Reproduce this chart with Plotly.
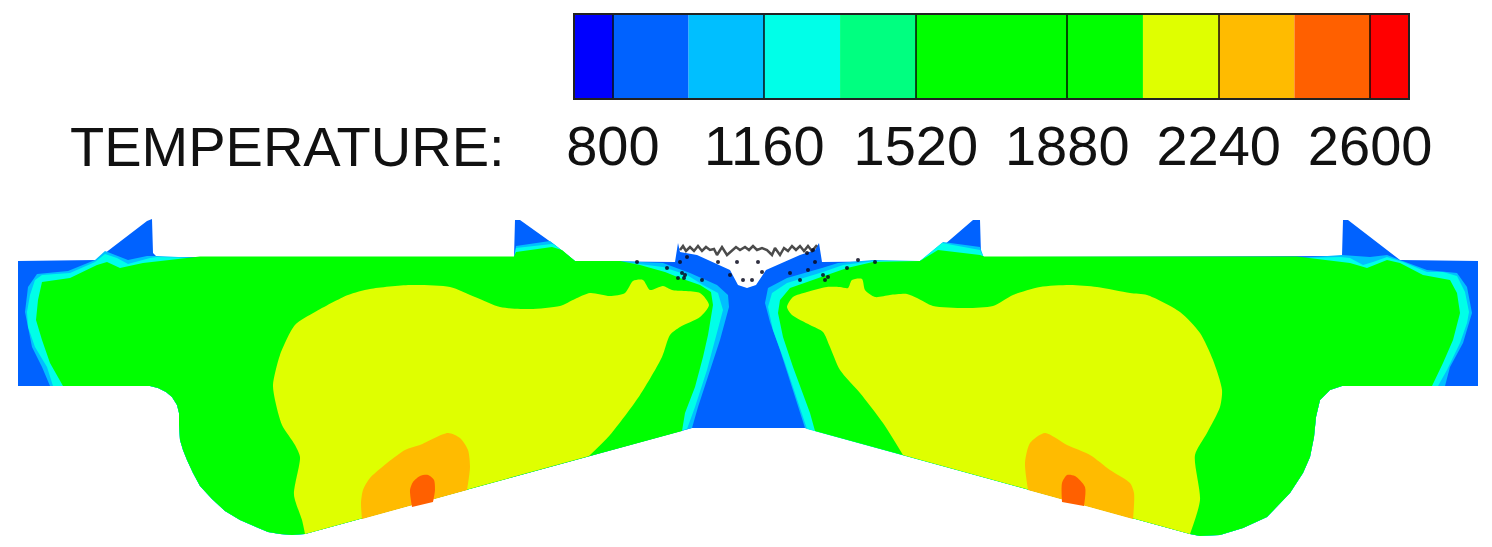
# -*- coding: utf-8 -*-
# temperature contour of the section (pixel coordinates)
import plotly.graph_objects as go

#%% legend bands
band_lo = [710, 800, 980, 1160, 1340, 1520, 2060, 2240, 2420, 2600]
band_hi = [800, 980, 1160, 1340, 1520, 2060, 2240, 2420, 2600, 2690]
band_colors = ['#0000ff', '#0062ff', '#00bfff', '#00ffe8', '#00ff80', '#00ff00',
               '#dfff00', '#ffbb00', '#ff6000', '#ff0000']
tick_vals = [800, 1160, 1520, 1880, 2240, 2600]
tick_text = ['800', '1160', '1520', '1880', '2240', '2600']

#%% contour regions
left_bottom = [(305,534),(292,535),(280,534),(268,532),(258,528),(240,520),(225,511),(212,499),(200,486),
               (193,473),(187,460),(183,450),(180,440),(179,425),(179,413),(177,405),(172,397),(166,392),
               (158,388),(150,386),(145,386)]
right_bottom = [(1190,534),(1200,536),(1220,535),(1243,528),(1267,517),(1290,493),(1303,473),(1310,457),
                (1314,437),(1316,417),(1320,400),(1330,390),(1342,386)]

outline = [(18,261),(96,260),(147,221),(152,219),(153,253),(157,257),(514,257),(515,220),(520,220),
           (555,245),(575,261),(675,262),(678,243),(680,252),(697,255),(730,270),(738,285),(747,288),
           (756,285),(766,270),(800,255),(815,250),(819,243),(822,262),(920,261),(944,245),(973,220),
           (980,220),(981,254),(984,257),(1342,256),(1343,220),(1348,220),(1400,260),(1478,261),
           (1478,386)] + right_bottom[::-1] + [(805,428),(692,428)] + left_bottom + [(18,386)]

lightblue_left = [(50,386),(42,367),(32,347),(25,312),(28,287),(37,274),(68,271),(95,260),(105,251),
                  (115,255),(128,260),(147,256),(157,256),(200,258),(514,258),(516,246),(550,241),(555,245),
                  (575,261),(620,261),(663,263),(690,273),(717,285),(728,295),(729,307),(720,340),
                  (710,370),(698,407),(692,428)] + left_bottom
cyan_left = [(53,386),(47,367),(35,347),(28,327),(27,312),(30,295),(35,280),(42,275),(70,273),(95,262),
             (105,254),(117,258),(128,264),(150,258),(157,257),(200,258),(514,258),(516,248),(552,244),(555,245),
             (575,261),(623,262),(663,267),(687,275),(703,285),(718,293),(723,310),(717,333),(707,370),
             (695,407),(687,429)] + left_bottom
green_left = [(63,386),(50,363),(42,340),(36,320),(38,300),(42,282),(70,278),(97,265),(107,262),
              (120,268),(143,263),(200,256.5),(514,256.5),(516,252),(552,247),(562,250),(575,261),(620,261),
              (640,265),(665,272),(680,278),(700,285),(711,292),(713,305),(708,335),(703,357),(695,387),
              (685,413),(682,431)] + left_bottom
yellow_left = [(305,534),(302,520),(294,495),(300,457),(295,445),(282,425),(275,400),(273,385),(280,355),
               (295,325),(315,312),(348,295),(370,289),(410,285),(450,287),(475,297),(500,307),(530,309),
               (560,306),(575,299),(590,293),(610,296),(625,293),(633,281),(643,280),(650,290),(663,286),
               (672,290),(700,293),(709,305),(700,317),(680,327),(670,335),(662,357),(640,395),(610,435),
               (589,456)]
orange_left = [(467,490),(470,467),(468,450),(460,438),(448,433),(420,445),(405,450),(370,478),(363,490),
               (361,503),(362,519)]
redorange_left = [(412,507),(410,490),(413,482),(420,476),(428,475),(434,480),(435,490),(433,502)]

lightblue_right = [(920,261),(873,260),(838,263),(822,268),(787,278),(768,288),(765,303),(770,322),(780,350),
                   (793,390),(805,428)] + right_bottom + [(1445,386),(1450,367),(1463,343),(1472,313),
                   (1467,287),(1457,273),(1427,270),(1400,260),(1387,255),(1370,257),(1342,255),(1298,258),
                   (984,258),(980,247),(943,242)]
cyan_right = [(920,261),(875,261),(843,265),(823,272),(787,283),(772,293),(768,307),(773,330),(785,363),
              (800,407),(807,429)] + right_bottom + [(1438,386),(1447,370),(1460,343),(1467,323),(1469,312),
              (1465,292),(1457,276),(1443,272),(1427,272),(1403,262),(1387,257),(1373,262),(1363,265),
              (1350,258),(1340,257),(1300,258),(984,258),(980,250),(942,243)]
green_right = [(920,261),(873,262),(847,268),(827,275),(790,288),(780,300),(778,313),(783,337),(793,367),
               (810,413),(815,431)] + right_bottom + [(1432,386),(1443,363),(1453,340),(1460,313),(1457,293),
               (1450,280),(1423,275),(1400,263),(1387,260),(1367,268),(1350,263),(1297,256.5),(984,256.5),
               (980,255),(938,250)]
yellow_right = [(903,455),(883,423),(860,393),(840,370),(830,347),(823,332),(810,325),(792,315),(787,307),
                (793,297),(807,292),(827,287),(840,287),(848,288),(852,280),(862,279),(865,290),(875,297),
                (890,295),(907,294),(917,298),(933,306),(967,308),(993,306),(1013,295),(1040,287),(1070,285),
                (1097,287),(1130,293),(1147,295),(1180,312),(1200,333),(1213,360),(1222,390),(1220,407),
                (1207,433),(1195,455),(1200,500),(1190,534)]
orange_right = [(1028,490),(1025,463),(1030,443),(1045,433),(1067,445),(1090,455),(1110,470),(1130,483),
                (1134,493),(1133,519)]
redorange_right = [(1062,502),(1062,483),(1067,475),(1075,476),(1085,487),(1084,506)]

# particle tracks and specks at the notch
track = [(680,250),(683,246),(686,251),(690,247),(694,251),(698,246),(702,251),(706,247),(710,250),(714,249),
         (717,255),(722,247),(727,255),(732,250),(736,247),(740,250),(745,247),(749,250),(753,246),(757,250),
         (762,248),(767,250),(772,255),(775,248),(780,255),(784,248),(788,251),(792,246),(796,250),(800,246),
         (804,251),(808,246),(812,251),(817,245)]
specks = [(685,275),(682,273),(678,278),(687,257),(667,268),(637,262),(702,280),(718,262),(730,275),(737,262),
          (758,262),(762,272),(743,280),(752,280),(790,273),(800,280),(808,270),(823,275),(828,277),(847,268),
          (858,260),(875,262),(807,253),(813,250),(680,262),(815,262),(684,278),(825,280)]

#%%
fig = go.Figure()


def add_region(points, color, shape='linear'):
    xs, ys = zip(*points)
    fig.add_trace(go.Scatter(x=xs, y=ys, mode='lines', fill='toself', fillcolor=color,
                             line=dict(width=0, shape=shape, smoothing=0.7), hoverinfo='skip',
                             showlegend=False))


add_region(outline, '#0062ff')
for region in [lightblue_left, lightblue_right]:
    add_region(region, '#00bfff')
for region in [cyan_left, cyan_right]:
    add_region(region, '#00ffe8')
for region in [green_left, green_right]:
    add_region(region, '#00ff00')
for region in [yellow_left, yellow_right]:
    add_region(region, '#dfff00', 'spline')
for region in [orange_left, orange_right]:
    add_region(region, '#ffbb00', 'spline')
for region in [redorange_left, redorange_right]:
    add_region(region, '#ff6000', 'spline')

fig.add_trace(go.Scatter(x=[p[0] for p in track], y=[p[1] for p in track], mode='lines',
                         line=dict(color='rgba(30,30,30,0.8)', width=2.5), showlegend=False))
fig.add_trace(go.Scatter(x=[p[0] for p in specks], y=[p[1] for p in specks], mode='markers',
                         marker=dict(color='rgba(10,10,30,0.85)', size=4), showlegend=False))

fig.add_trace(go.Bar(x=[h - l for l, h in zip(band_lo, band_hi)], y=[0] * len(band_lo), base=band_lo,
                     orientation='h', width=1, marker=dict(color=band_colors, line=dict(width=0)),
                     xaxis='x2', yaxis='y2', showlegend=False))

fig.add_annotation(text='TEMPERATURE:', xref='x', yref='y', x=68, y=146, xanchor='left', yanchor='middle',
                   showarrow=False, font=dict(family='Liberation Sans', size=56, color='#111111'))

fig.update_layout(
    width=1492, height=547, margin=dict(l=0, r=0, t=0, b=0, pad=0), autosize=False,
    paper_bgcolor='white', plot_bgcolor='white', showlegend=False,
    xaxis=dict(range=[0, 1492], visible=False, domain=[0, 1], automargin=False),
    yaxis=dict(range=[547, 0], visible=False, domain=[0, 1], automargin=False),
    xaxis2=dict(range=[710, 2690], domain=[575 / 1492, 1408 / 1492], anchor='y2', automargin=False,
                tickmode='array', tickvals=tick_vals, ticktext=tick_text, ticks='inside', ticklen=83,
                tickwidth=1.5, tickcolor='rgba(0,0,0,0.7)', showgrid=False, zeroline=False,
                showline=True, linecolor='#222222', linewidth=1.5, mirror=True, ticklabelstandoff=-2,
                tickfont=dict(family='Liberation Sans', size=56, color='#111111')),
    yaxis2=dict(range=[-0.5, 0.5], domain=[1 - 98 / 547, 1 - 15 / 547], anchor='x2', showticklabels=False,
                automargin=False, ticks='', showgrid=False, zeroline=False, showline=True,
                linecolor='#222222', linewidth=1.5, mirror=True),
)

# no page margin, the figure fills the window; the source picture is a soft upscale
fig.write_html("out.html", config={'displayModeBar': False},
               post_script="document.body.style.margin = '0'; document.body.style.filter = 'blur(0.6px)';")
